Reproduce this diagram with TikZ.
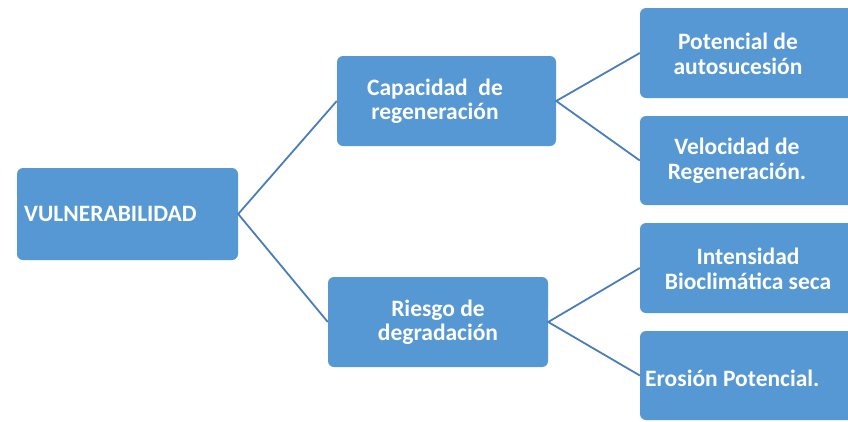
\documentclass[tikz,border=0pt]{standalone}
\usepackage{fontspec}
\setmainfont{Carlito}
\definecolor{boxblue}{RGB}{86,152,211}
\definecolor{lineblue}{RGB}{74,126,187}
\begin{document}
\begin{tikzpicture}[x=1pt,y=-1pt,
  box/.style={draw=none,fill=boxblue,rounded corners=6pt,minimum width=#1,inner sep=0pt},
  box/.default=220pt,
  lbl/.style={text=white,font=\fontsize{23.5}{24.5}\selectfont\bfseries,align=center,inner sep=0pt},
  conn/.style={draw=lineblue,line width=1.8pt}]
\useasboundingbox (0,0) rectangle (848,421);
\clip (0,0) rectangle (848,421);
% boxes
\node[box=221pt,minimum height=92pt] (v) at (127.5,214) {};
\node[box=219pt,minimum height=90pt] (c) at (446.5,101) {};
\node[box=220pt,minimum height=90pt] (r) at (438,322) {};
\node[box=230pt,minimum height=90pt] (p) at (755,53) {};
\node[box=230pt,minimum height=89pt] (s) at (755,160.5) {};
\node[box=230pt,minimum height=90pt] (i) at (755,268) {};
\node[box=230pt,minimum height=89pt] (e) at (755,375.5) {};
% texts
\node[lbl,anchor=west] (vt) at (24,214) {VULNERABILIDAD};
\node[lbl] (ct) at (435,101) {Capacidad\ \ de\\regeneración};
\node[lbl] (rt) at (438,322) {Riesgo de\\degradación};
\node[lbl] (pt) at (738,54) {Potencial de\\autosucesión};
\node[lbl] (st) at (737,160.5) {Velocidad de\\Regeneración.};
\node[lbl] (it) at (748,269) {Intensidad\\Bioclimática seca};
\node[lbl,anchor=west] (et) at (645,378) {Erosión Potencial.};
% connectors
\draw[conn] (c.west) -- (v.east) -- (r.west);
\draw[conn] (p.west) -- (c.east) -- (s.west);
\draw[conn] (i.west) -- (r.east) -- (e.west);
\end{tikzpicture}
\end{document}
